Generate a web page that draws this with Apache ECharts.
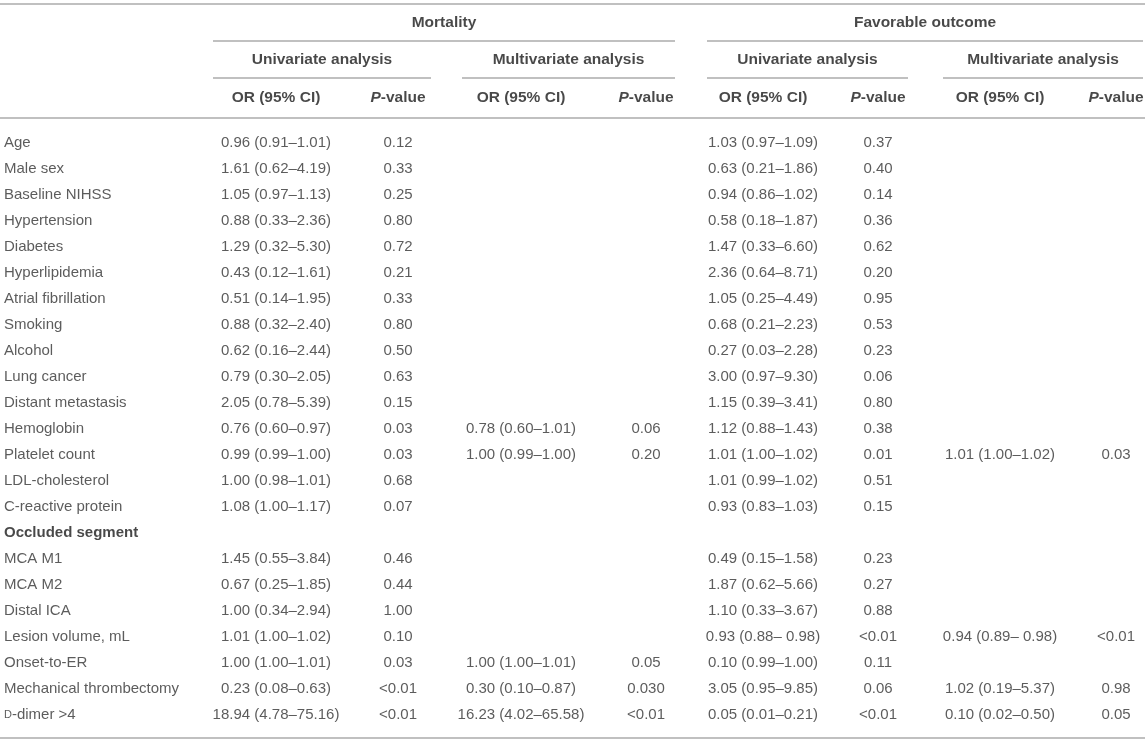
<!DOCTYPE html>
<html>
    <head>
        <meta charset="UTF-8">
        <script src="https://cdn.jsdelivr.net/npm/echarts@6/dist/echarts.min.js"></script>
        <style>
            html, body { margin: 0; padding: 0; background: #fff; }
        </style>
    </head>

    <body>
        <div id="main" style="width:1145px;height:749px"></div>
        <script type="text/javascript">
            // table content
            var rowLabels = [
                'Age', 'Male sex', 'Baseline NIHSS', 'Hypertension', 'Diabetes',
                'Hyperlipidemia', 'Atrial fibrillation', 'Smoking', 'Alcohol', 'Lung cancer',
                'Distant metastasis', 'Hemoglobin', 'Platelet count', 'LDL-cholesterol',
                'C-reactive protein', 'Occluded segment', 'MCA M1', 'MCA M2', 'Distal ICA',
                'Lesion volume, mL', 'Onset-to-ER', 'Mechanical thrombectomy', 'D-dimer >4'
            ];
            var boldRows = ['Occluded segment'];

            var mortUniOR = [
                '0.96 (0.91–1.01)', '1.61 (0.62–4.19)', '1.05 (0.97–1.13)', '0.88 (0.33–2.36)',
                '1.29 (0.32–5.30)', '0.43 (0.12–1.61)', '0.51 (0.14–1.95)', '0.88 (0.32–2.40)',
                '0.62 (0.16–2.44)', '0.79 (0.30–2.05)', '2.05 (0.78–5.39)', '0.76 (0.60–0.97)',
                '0.99 (0.99–1.00)', '1.00 (0.98–1.01)', '1.08 (1.00–1.17)', '',
                '1.45 (0.55–3.84)', '0.67 (0.25–1.85)', '1.00 (0.34–2.94)', '1.01 (1.00–1.02)',
                '1.00 (1.00–1.01)', '0.23 (0.08–0.63)', '18.94 (4.78–75.16)'
            ];
            var mortUniP = [
                '0.12', '0.33', '0.25', '0.80', '0.72', '0.21', '0.33', '0.80', '0.50', '0.63',
                '0.15', '0.03', '0.03', '0.68', '0.07', '', '0.46', '0.44', '1.00', '0.10',
                '0.03', '<0.01', '<0.01'
            ];
            var mortMultiOR = [
                '', '', '', '', '', '', '', '', '', '', '',
                '0.78 (0.60–1.01)', '1.00 (0.99–1.00)', '', '', '', '', '', '', '',
                '1.00 (1.00–1.01)', '0.30 (0.10–0.87)', '16.23 (4.02–65.58)'
            ];
            var mortMultiP = [
                '', '', '', '', '', '', '', '', '', '', '',
                '0.06', '0.20', '', '', '', '', '', '', '',
                '0.05', '0.030', '<0.01'
            ];
            var favUniOR = [
                '1.03 (0.97–1.09)', '0.63 (0.21–1.86)', '0.94 (0.86–1.02)', '0.58 (0.18–1.87)',
                '1.47 (0.33–6.60)', '2.36 (0.64–8.71)', '1.05 (0.25–4.49)', '0.68 (0.21–2.23)',
                '0.27 (0.03–2.28)', '3.00 (0.97–9.30)', '1.15 (0.39–3.41)', '1.12 (0.88–1.43)',
                '1.01 (1.00–1.02)', '1.01 (0.99–1.02)', '0.93 (0.83–1.03)', '',
                '0.49 (0.15–1.58)', '1.87 (0.62–5.66)', '1.10 (0.33–3.67)', '0.93 (0.88– 0.98)',
                '0.10 (0.99–1.00)', '3.05 (0.95–9.85)', '0.05 (0.01–0.21)'
            ];
            var favUniP = [
                '0.37', '0.40', '0.14', '0.36', '0.62', '0.20', '0.95', '0.53', '0.23', '0.06',
                '0.80', '0.38', '0.01', '0.51', '0.15', '', '0.23', '0.27', '0.88', '<0.01',
                '0.11', '0.06', '<0.01'
            ];
            var favMultiOR = [
                '', '', '', '', '', '', '', '', '', '', '', '',
                '1.01 (1.00–1.02)', '', '', '', '', '', '',
                '0.94 (0.89– 0.98)', '', '1.02 (0.19–5.37)', '0.10 (0.02–0.50)'
            ];
            var favMultiP = [
                '', '', '', '', '', '', '', '', '', '', '', '',
                '0.03', '', '', '', '', '', '',
                '<0.01', '', '0.98', '0.05'
            ];

            var groupHeads = ['Mortality', 'Favorable outcome'];
            var analysisHeads = ['Univariate analysis', 'Multivariate analysis', 'Univariate analysis', 'Multivariate analysis'];
            var colHeads = ['OR (95% CI)', 'P-value', 'OR (95% CI)', 'P-value', 'OR (95% CI)', 'P-value', 'OR (95% CI)', 'P-value'];

            // layout (x in page units)
            var labelX = 4;
            var colX = [276, 398, 521, 646, 763, 878, 1000, 1116];
            var groupSpans = [[213, 675], [707, 1143]];
            var analysisSpans = [[213, 431], [462, 675], [707, 908], [943, 1143]];
            var headRowY = [0.5, 1.47, 2.47];
            var headRuleY = [0.965, 1.94];

            var FONT = '"Liberation Sans", Arial, Helvetica, sans-serif';
            var TEXT = '#333333';
            var HEAD = '#1a1a1a';
            var RULE = { color: '#ababab', width: 1.5 };

            var dataCols = [mortUniOR, mortUniP, mortMultiOR, mortMultiP, favUniOR, favUniP, favMultiOR, favMultiP];

            var cellData = [];
            dataCols.forEach(function (col, c) {
                col.forEach(function (txt, r) {
                    if (txt !== '') cellData.push([colX[c], r, txt]);
                });
            });

            var labelData = rowLabels.map(function (name, r) {
                var item = { value: [labelX, r, name] };
                if (boldRows.indexOf(name) >= 0) item.label = { fontWeight: 'bold', color: HEAD };
                return item;
            });

            function mid(span) { return (span[0] + span[1]) / 2; }

            var headData = [];
            groupHeads.forEach(function (t, i) { headData.push([mid(groupSpans[i]), headRowY[0], t]); });
            analysisHeads.forEach(function (t, i) { headData.push([mid(analysisSpans[i]), headRowY[1], t]); });
            colHeads.forEach(function (t, i) { headData.push([colX[i], headRowY[2], t]); });

            var ruleData = [];
            groupSpans.forEach(function (s) {
                ruleData.push([{ coord: [s[0], headRuleY[0]] }, { coord: [s[1], headRuleY[0]] }]);
            });
            analysisSpans.forEach(function (s) {
                ruleData.push([{ coord: [s[0], headRuleY[1]] }, { coord: [s[1], headRuleY[1]] }]);
            });

            var chart = echarts.init(document.getElementById('main'), null, { renderer: 'canvas' });

            var ruleAxis = {
                show: true,
                axisLine: { show: true, lineStyle: RULE },
                axisTick: { show: false },
                axisLabel: { show: false },
                splitLine: { show: false }
            };

            var option = {
                animation: false,
                backgroundColor: '#fff',
                textStyle: { fontFamily: FONT },
                grid: [
                    { left: 0, right: 0, top: 4, height: 114 },
                    { left: 0, right: 0, top: 130, height: 598 }
                ],
                xAxis: [
                    Object.assign({ type: 'value', gridIndex: 0, min: 0, max: 1145, position: 'top' }, ruleAxis),
                    Object.assign({ type: 'value', gridIndex: 1, min: 0, max: 1145, position: 'top', offset: 12 }, ruleAxis),
                    Object.assign({ type: 'value', gridIndex: 1, min: 0, max: 1145, position: 'bottom', offset: 10 }, ruleAxis)
                ],
                yAxis: [
                    { type: 'value', gridIndex: 0, min: 0, max: 3, inverse: true, show: false },
                    { type: 'category', gridIndex: 1, data: rowLabels, inverse: true, show: false }
                ],
                series: [
                    {
                        name: 'head',
                        type: 'scatter',
                        xAxisIndex: 0,
                        yAxisIndex: 0,
                        symbolSize: 0,
                        silent: true,
                        data: headData,
                        label: {
                            show: true,
                            position: 'inside',
                            color: HEAD,
                            fontFamily: FONT,
                            fontSize: 15.5,
                            fontWeight: 'bold',
                            formatter: function (p) {
                                var t = p.value[2];
                                return t === 'P-value' ? '{i|P}-value' : t;
                            },
                            rich: {
                                i: { fontStyle: 'italic', fontWeight: 'bold', fontSize: 15.5, color: HEAD, fontFamily: FONT }
                            }
                        },
                        markLine: {
                            silent: true,
                            symbol: 'none',
                            label: { show: false },
                            lineStyle: { color: RULE.color, width: RULE.width, type: 'solid' },
                            data: ruleData
                        }
                    },
                    {
                        name: 'rows',
                        type: 'scatter',
                        xAxisIndex: 1,
                        yAxisIndex: 1,
                        symbolSize: 0,
                        silent: true,
                        data: labelData,
                        label: {
                            show: true,
                            position: 'right',
                            distance: 0,
                            color: TEXT,
                            fontFamily: FONT,
                            fontSize: 15,
                            formatter: function (p) {
                                var t = p.value[2];
                                return t.indexOf('D-') === 0 ? '{sc|D}' + t.slice(1) : t;
                            },
                            rich: {
                                sc: { fontSize: 11, color: TEXT, fontFamily: FONT }
                            }
                        }
                    },
                    {
                        name: 'cells',
                        type: 'scatter',
                        xAxisIndex: 1,
                        yAxisIndex: 1,
                        symbolSize: 0,
                        silent: true,
                        data: cellData,
                        label: {
                            show: true,
                            position: 'inside',
                            color: TEXT,
                            fontFamily: FONT,
                            fontSize: 15,
                            formatter: function (p) { return p.value[2]; }
                        }
                    }
                ]
            };

            option && chart.setOption(option);
        </script>
    </body>
</html>
